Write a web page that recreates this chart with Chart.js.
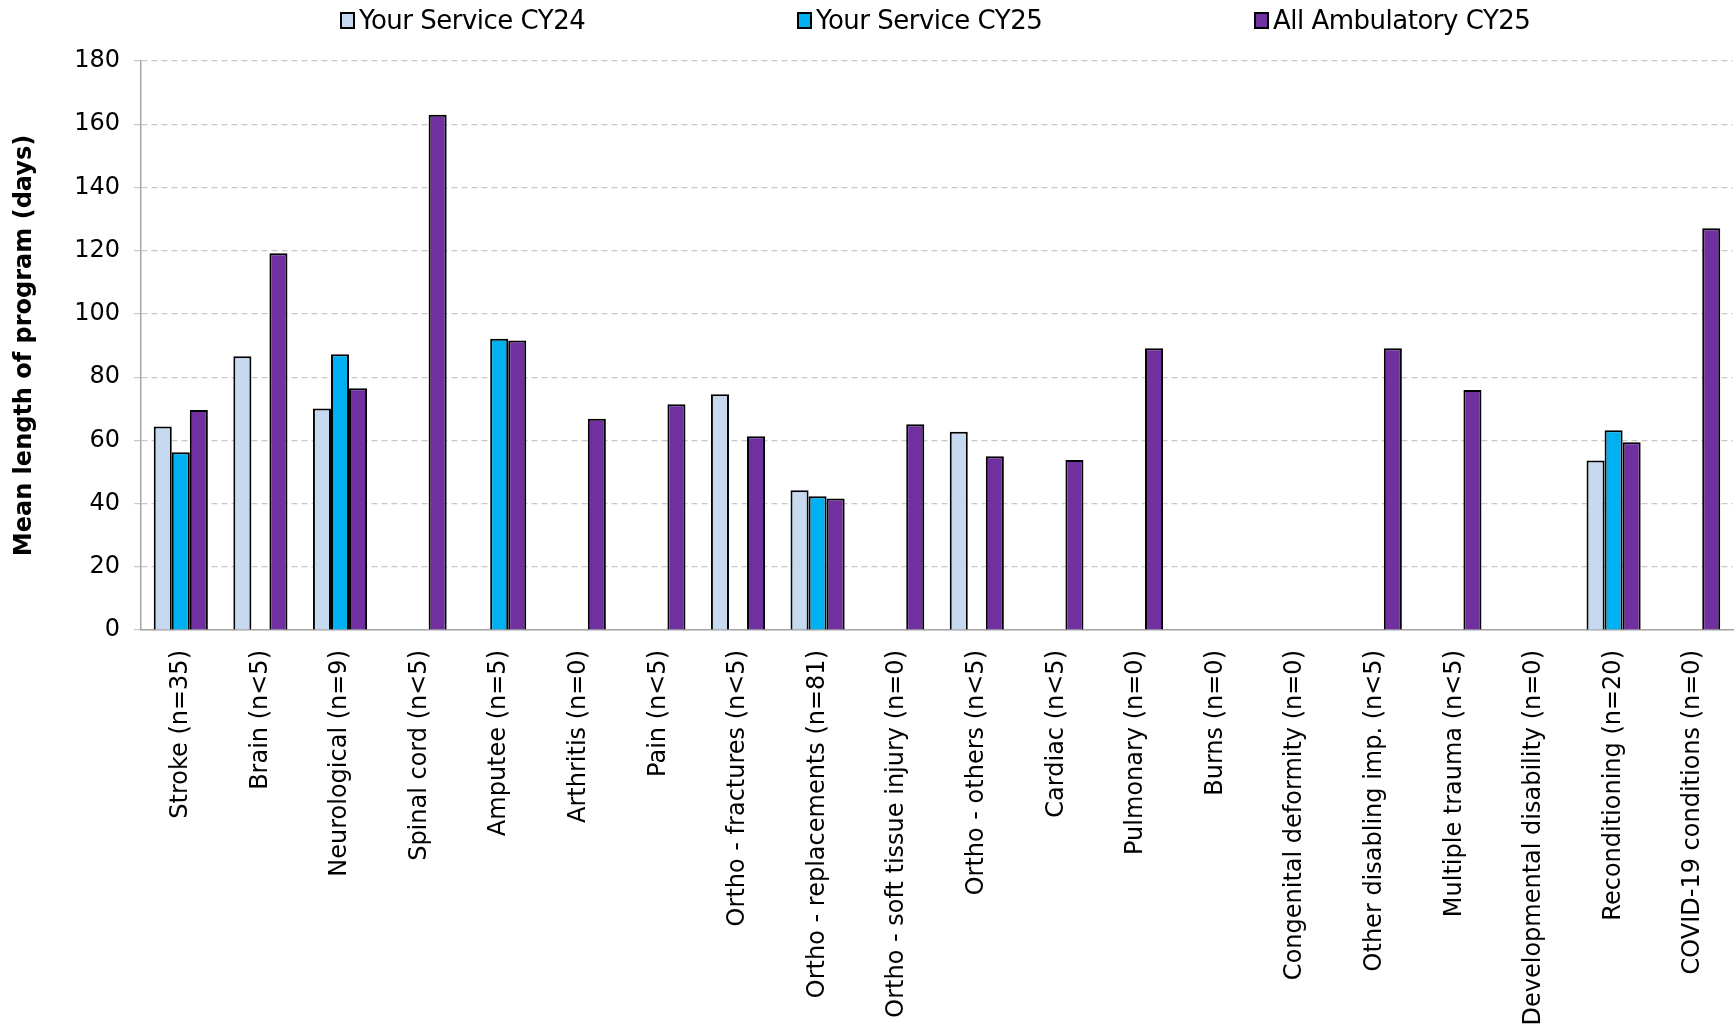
<!DOCTYPE html>
<html>
<head>
<meta charset="utf-8">
<script src="https://cdn.jsdelivr.net/npm/chart.js@4.4.1/dist/chart.umd.min.js"></script>
<style>
  html, body { margin: 0; padding: 0; background: #fff; }
  #wrap { position: relative; width: 1736px; height: 1025px; }
  #legend { position: absolute; top: 0; left: 0; width: 1736px; height: 42px; font-family: "DejaVu Sans", sans-serif; font-size: 26px; color: #000; }
  .item { position: absolute; top: 5px; display: flex; align-items: center; white-space: nowrap; letter-spacing: -0.5px; }
  .box { width: 15px; height: 17px; border: 2px solid #000; margin-right: 4px; box-sizing: border-box; }
</style>
</head>
<body>
<div id="wrap">
  <canvas id="chart-los"></canvas>
  <div id="legend"></div>
</div>
<script>
const categories = [
  'Stroke (n=35)', 'Brain (n<5)', 'Neurological (n=9)', 'Spinal cord (n<5)', 'Amputee (n=5)',
  'Arthritis (n=0)', 'Pain (n<5)', 'Ortho - fractures (n<5)', 'Ortho - replacements (n=81)',
  'Ortho - soft tissue injury (n=0)', 'Ortho - others (n<5)', 'Cardiac (n<5)', 'Pulmonary (n=0)',
  'Burns (n=0)', 'Congenital deformity (n=0)', 'Other disabling imp. (n<5)', 'Multiple trauma (n<5)',
  'Developmental disability (n=0)', 'Reconditioning (n=20)', 'COVID-19 conditions (n=0)'
];

const serviceCY24 = [64.4, 86.6, 70.1, null, null, null, null, 74.6, 44.2, null, 62.7, null, null, null, null, null, null, null, 53.6, null];
const serviceCY25 = [56.2, null, 87.2, null, 92.1, null, null, null, 42.3, null, null, null, null, null, null, null, null, null, 63.2, null];
const allAmbCY25 = [69.6, 119.2, 76.5, 163.0, 91.6, 66.8, 71.4, 61.3, 41.6, 65.1, 55.0, 53.8, 89.1, null, null, 89.1, 75.9, null, 59.4, 127.1];

const seriesNames = ['Your Service CY24', 'Your Service CY25', 'All Ambulatory CY25'];
const seriesColors = ['#c6d9f0', '#00b0f0', '#7030a0'];
const legendLeft = [340, 797, 1254];

const FONT = '"DejaVu Sans", sans-serif';

// HTML legend
const legend = document.getElementById('legend');
legend.innerHTML = seriesNames.map((name, i) =>
  `<div class="item" style="left:${legendLeft[i]}px"><span class="box" style="background:${seriesColors[i]}"></span>${name}</div>`
).join('');

const ctx = document.getElementById('chart-los');

new Chart(ctx, {
  type: 'bar',
  data: {
    labels: categories,
    datasets: [serviceCY24, serviceCY25, allAmbCY25].map((data, i) => ({
      label: seriesNames[i],
      data,
      backgroundColor: seriesColors[i],
      borderColor: '#000',
      borderWidth: 2,
      barPercentage: 1.0,
      categoryPercentage: 0.68
    }))
  },
  options: {
    responsive: true,
    maintainAspectRatio: false,
    animation: false,
    layout: { padding: { top: 61, left: 10, right: 3, bottom: 0 } },
    plugins: {
      legend: { display: false },
      tooltip: { enabled: false }
    },
    scales: {
      x: {
        afterFit: s => { s.height = 395; },
        grid: { display: false },
        border: { display: true, color: '#a6a6a6', width: 1.5 },
        ticks: {
          autoSkip: false,
          minRotation: 90,
          maxRotation: 90,
          padding: 12,
          color: '#000',
          font: { family: FONT, size: 24 }
        }
      },
      y: {
        min: 0,
        max: 180,
        afterFit: s => { s.width = 131; },
        border: { display: true, color: '#a6a6a6', width: 1.5, dash: [6, 4] },
        grid: {
          color: '#c8c8c8',
          lineWidth: 1.2,
          tickLength: 7,
          tickColor: '#c8c8c8',
          tickBorderDash: [6, 4]
        },
        ticks: {
          stepSize: 20,
          padding: 14,
          color: '#000',
          font: { family: FONT, size: 24 }
        },
        title: {
          display: true,
          text: 'Mean length of program (days)',
          color: '#000',
          padding: { top: 0, bottom: 6 },
          font: { family: FONT, size: 24, weight: 'bold' }
        }
      }
    }
  }
});
</script>
</body>
</html>
